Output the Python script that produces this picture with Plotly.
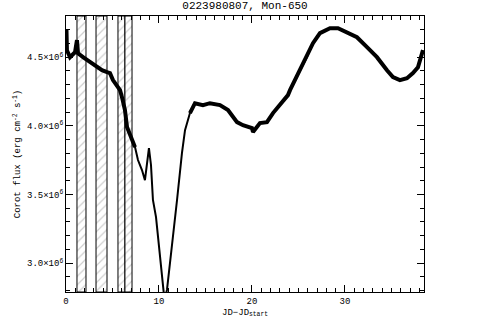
import numpy as np
import plotly.graph_objects as go

# light curve (flux in units of 1e6)
jd = [0.0, 0.05, 0.1, 0.43, 0.97, 1.18, 1.29, 1.83, 2.58, 3.33, 3.87, 4.41, 4.73,
      5.05, 5.59, 5.81, 6.02, 6.34, 6.56, 7.10, 7.42, 7.74, 8.17, 8.49, 8.71, 8.92,
      9.14, 9.35, 9.68, 10.11, 10.59, 10.86, 11.40, 11.94, 12.47, 12.80, 13.33,
      13.87, 14.73, 15.48, 16.56, 17.42, 18.39, 19.03, 20.0, 20.11, 20.86, 21.61,
      22.26, 23.01, 23.87, 24.09, 25.16, 25.91, 26.56, 27.31, 28.39, 29.25, 30.22,
      31.29, 32.37, 33.44, 34.52, 35.16, 35.91, 36.67, 37.31, 37.85, 38.39]
flux = [4.565, 4.70, 4.551, 4.50, 4.536, 4.624, 4.529, 4.50, 4.464, 4.427, 4.405,
        4.391, 4.384, 4.333, 4.282, 4.26, 4.209, 4.115, 3.991, 3.896, 3.845, 3.751,
        3.678, 3.605, 3.715, 3.838, 3.715, 3.46, 3.336, 3.045, 2.733, 2.805, 3.118,
        3.46, 3.802, 3.969, 4.093, 4.165, 4.151, 4.165, 4.151, 4.115, 4.027, 4.005,
        3.984, 3.955, 4.02, 4.027, 4.093, 4.151, 4.224, 4.26, 4.405, 4.50, 4.602,
        4.675, 4.711, 4.711, 4.682, 4.645, 4.573, 4.50, 4.405, 4.355, 4.333, 4.347,
        4.384, 4.427, 4.551]

# hatched intervals (start, end)
band_start = [1.18, 3.23, 5.59, 6.34]
band_end = [2.15, 4.41, 6.34, 7.10]

ytick_vals = [3.0, 3.5, 4.0, 4.5]
ytick_text = ["3.0×10<sup>6</sup>", "3.5×10<sup>6</sup>",
              "4.0×10<sup>6</sup>", "4.5×10<sup>6</sup>"]

xr = [0, 38.5]
yr = [2.79e6, 4.80e6]

jd = np.array(jd)
flux = np.array(flux) * 1e6

fig = go.Figure()

for x0, x1 in zip(band_start, band_end):
    fig.add_trace(go.Scatter(
        x=[x0, x1, x1, x0, x0], y=[yr[0], yr[0], yr[1], yr[1], yr[0]],
        fill="toself", mode="lines", line=dict(color="black", width=1),
        fillcolor="white",
        fillpattern=dict(shape="/", fgcolor="#a0a0a0", bgcolor="white",
                         size=6, solidity=0.2),
        showlegend=False, hoverinfo="skip"))

fig.add_trace(go.Scatter(x=jd, y=flux, mode="lines",
                         line=dict(color="black", width=2), showlegend=False))
# the noisy parts of the curve look thicker
noisy = (jd < 7.5) | (jd > 13.2)
fig.add_trace(go.Scatter(x=np.where(noisy, jd, np.nan), y=flux, mode="lines",
                         line=dict(color="black", width=4), showlegend=False))

font = "Liberation Mono"
fig.update_layout(
    width=490, height=327,
    margin=dict(l=66, r=66, t=16, b=35),
    paper_bgcolor="white", plot_bgcolor="white",
    font=dict(family=font, size=9, color="black"),
    title=dict(text="0223980807, Mon-650", x=0.5, xanchor="center",
               y=0.995, yanchor="top", font=dict(family=font, size=11)),
)
fig.update_xaxes(
    range=xr, showgrid=False, zeroline=False, showline=True, linecolor="black",
    linewidth=1, mirror="allticks", ticks="inside", ticklen=7, tickcolor="black",
    dtick=10, tick0=0, automargin=False,
    minor=dict(ticks="inside", ticklen=4, dtick=1, tickcolor="black"),
    title=dict(text="JD−JD<sub>start</sub>", standoff=2, font=dict(size=9)),
)
fig.update_yaxes(
    range=yr, showgrid=False, zeroline=False, showline=True, linecolor="black",
    linewidth=1, mirror="allticks", ticks="inside", ticklen=7, tickcolor="black",
    tickvals=[v * 1e6 for v in ytick_vals], ticktext=ytick_text, automargin=False,
    minor=dict(ticks="inside", ticklen=4, dtick=1e5, tick0=0, tickcolor="black"),
    title=dict(text="Corot flux (erg cm<sup>-2</sup> s<sup>-1</sup>)", standoff=4,
               font=dict(size=9)),
)

# drop the browser's default body margin so the figure sits at the page corner
fig.write_html("out.html", config={"displayModeBar": False},
               post_script="document.body.style.margin='0px';")
